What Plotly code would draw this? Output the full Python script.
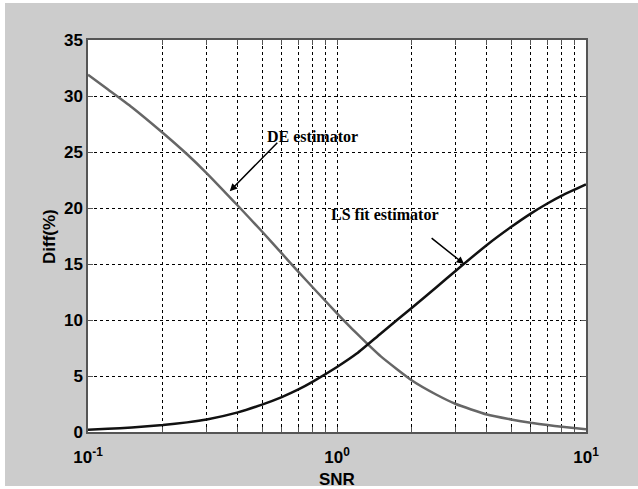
import plotly.graph_objects as go
import math

snr = [0.1, 0.12, 0.15, 0.2, 0.25, 0.3, 0.4, 0.5, 0.6, 0.7, 0.8, 1.0, 1.2, 1.5, 2, 2.5, 3, 4, 5, 6, 7, 8, 10]
de_diff = [31.9, 30.6, 29.0, 26.7, 24.8, 23.1, 20.2, 17.9, 15.95, 14.3, 12.9, 10.6, 8.8, 6.75, 4.6, 3.35, 2.5, 1.56, 1.12, 0.82, 0.62, 0.47, 0.25]
ls_diff = [0.2, 0.28, 0.4, 0.62, 0.86, 1.12, 1.75, 2.45, 3.12, 3.8, 4.5, 5.8, 7.0, 8.8, 11.1, 12.9, 14.4, 16.7, 18.3, 19.5, 20.4, 21.1, 22.1]

x_tickvals = [0.1, 0.2, 0.3, 0.4, 0.5, 0.6, 0.7, 0.8, 0.9, 1, 2, 3, 4, 5, 6, 7, 8, 9, 10]
x_ticktext = ["10<sup>-1</sup>"] + [""] * 8 + ["10<sup>0</sup>"] + [""] * 8 + ["10<sup>1</sup>"]
y_tickvals = [0, 5, 10, 15, 20, 25, 30, 35]

font_fam = "Liberation Sans, Arial, sans-serif"

fig = go.Figure()
fig.add_trace(go.Scatter(x=snr, y=de_diff, mode="lines",
                         line=dict(color="#666666", width=2.5, shape="spline", smoothing=0.5), name="DE"))
fig.add_trace(go.Scatter(x=snr, y=ls_diff, mode="lines",
                         line=dict(color="#111111", width=2.5, shape="spline", smoothing=0.5), name="LS"))

axis_common = dict(
    showline=True, linecolor="#555555", linewidth=1.5, mirror="ticks",
    ticks="inside", ticklen=5, tickcolor="#555555",
    showgrid=True, gridcolor="#000000", gridwidth=1, griddash="3px,3px",
    zeroline=False, automargin=False,
    tickfont=dict(family=font_fam, size=17, color="#000000", weight="bold"),
)

# plot area in pixels: x 88..586, y 40..432
def px_x(p):
    return (p - 88) / 498

def px_y(p):
    return (432 - p) / 392

fig.update_layout(
    width=638, height=489,
    margin=dict(l=88, r=52, t=40, b=57),
    paper_bgcolor="#ffffff",
    plot_bgcolor="#ffffff",
    showlegend=False,
    xaxis=dict(type="log", range=[-1, 1], tickvals=x_tickvals, ticktext=x_ticktext,
               ticklabelstandoff=9, **axis_common),
    yaxis=dict(range=[0, 35], tickvals=y_tickvals, **axis_common),
    shapes=[
        dict(type="rect", xref="paper", yref="paper", layer="below",
             x0=px_x(5), x1=px_x(638), y0=px_y(486), y1=px_y(3),
             fillcolor="#cccccc", line=dict(width=0)),
        dict(type="rect", xref="paper", yref="paper", layer="below",
             x0=0, x1=1, y0=0, y1=1, fillcolor="#ffffff", line=dict(width=0)),
    ],
    annotations=[
        dict(x=math.log10(0.371), y=21.5, xref="x", yref="y", text="", showarrow=True,
             arrowhead=2, arrowsize=1, arrowwidth=1.5, arrowcolor="#000000", ax=49, ay=-50),
        dict(x=math.log10(3.24), y=15.0, xref="x", yref="y", text="", showarrow=True,
             arrowhead=2, arrowsize=1, arrowwidth=1.5, arrowcolor="#000000", ax=-34, ay=-27),
        dict(x=px_x(312), y=px_y(126), xref="paper", yref="paper", text="<b>DE estimator</b>",
             showarrow=False, font=dict(family="Liberation Serif, Times New Roman, serif", size=16, color="#000000")),
        dict(x=px_x(385), y=px_y(214), xref="paper", yref="paper", text="<b>LS fit estimator</b>",
             showarrow=False, font=dict(family="Liberation Serif, Times New Roman, serif", size=16, color="#000000")),
        dict(x=px_x(337), y=px_y(479), xref="paper", yref="paper", text="<b>SNR</b>",
             showarrow=False, yanchor="middle",
             font=dict(family=font_fam, size=17, color="#000000")),
        dict(x=px_x(49), y=px_y(237), xref="paper", yref="paper", text="<b>Diff(%)</b>",
             showarrow=False, textangle=-90, xanchor="center", yanchor="middle",
             font=dict(family=font_fam, size=17, color="#000000")),
    ],
)

fig.write_html("out.html")
